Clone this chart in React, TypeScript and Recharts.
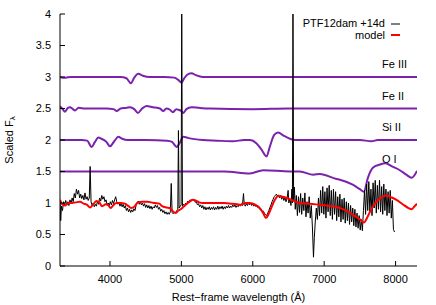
import React from 'react';
import { LineChart, Line, XAxis, YAxis, ReferenceDot, Legend } from 'recharts';

const FONT = '"Liberation Sans", Arial, Helvetica, sans-serif';

const xTicks = [4000, 5000, 6000, 7000, 8000];
const yTicks = [0, 0.5, 1, 1.5, 2, 2.5, 3, 3.5, 4];

// PTF12dam +14d observed spectrum [wavelength, scaled flux]
const observed: [number, number][] = [
  [3300, 1.05], [3310, 0.72], [3320, 0.95], [3335, 0.88], [3350, 1.02], [3365, 0.96], [3380, 1.04], [3395, 0.97],
  [3410, 1.02], [3425, 0.96], [3440, 1.05], [3455, 0.99], [3470, 1.08], [3485, 1.02], [3500, 1.15], [3515, 1.08],
  [3530, 1.22], [3545, 1.14], [3560, 1.2], [3575, 1.08], [3590, 1.14], [3605, 1.07], [3620, 1.12], [3635, 1.05],
  [3650, 1.16], [3665, 1.06], [3680, 1.1], [3695, 1.04], [3710, 1.08], [3722, 1.58], [3735, 1.02], [3750, 0.96],
  [3765, 1.0], [3780, 0.94], [3795, 0.98], [3810, 0.95], [3825, 1.03], [3840, 0.98], [3855, 1.08], [3870, 1.03],
  [3885, 1.12], [3900, 1.06], [3915, 1.1], [3930, 1.02], [3945, 1.05], [3960, 0.97], [3975, 1.0], [3990, 0.96],
  [4005, 1.02], [4020, 0.97], [4035, 1.04], [4050, 0.99], [4065, 1.05], [4080, 1.1], [4095, 1.02], [4110, 0.98],
  [4125, 1.01], [4140, 0.95], [4155, 0.99], [4170, 0.94], [4185, 0.98], [4200, 0.92], [4215, 0.96], [4230, 0.88],
  [4245, 0.92], [4260, 0.86], [4275, 0.9], [4290, 0.85], [4305, 0.89], [4320, 0.86], [4335, 0.91], [4350, 0.88],
  [4365, 0.96], [4380, 0.99], [4395, 1.03], [4410, 0.98], [4425, 1.02], [4440, 0.97], [4455, 1.0], [4470, 0.95],
  [4485, 0.99], [4500, 0.93], [4515, 0.97], [4530, 0.92], [4545, 0.96], [4560, 0.91], [4575, 0.95], [4590, 0.9],
  [4605, 0.94], [4620, 0.92], [4635, 0.97], [4650, 0.93], [4665, 0.96], [4680, 0.9], [4695, 0.93], [4710, 0.87],
  [4725, 0.9], [4740, 0.85], [4755, 0.88], [4770, 0.83], [4785, 0.86], [4800, 0.82], [4815, 0.85], [4830, 0.82],
  [4845, 0.86], [4858, 1.31], [4870, 0.85], [4885, 0.83], [4900, 0.86], [4915, 0.84], [4935, 0.88], [4950, 0.9],
  [4959, 2.15], [4968, 0.92], [4985, 0.95], [4996, 0.97], [5005, 4.0], [5015, 0.95], [5030, 0.98], [5045, 0.96],
  [5060, 1.0], [5075, 0.98], [5090, 1.03], [5105, 1.01], [5120, 1.05], [5135, 1.03], [5150, 1.06], [5165, 1.04],
  [5180, 1.05], [5195, 1.01], [5210, 1.02], [5225, 0.97], [5240, 0.99], [5255, 0.94], [5270, 0.97], [5285, 0.92],
  [5300, 0.96], [5315, 0.9], [5330, 0.94], [5345, 0.89], [5360, 0.93], [5375, 0.9], [5390, 0.94], [5405, 0.89],
  [5420, 0.93], [5435, 0.9], [5450, 0.94], [5465, 0.89], [5480, 0.93], [5495, 0.9], [5510, 0.95], [5525, 0.9],
  [5540, 0.94], [5555, 0.91], [5570, 0.95], [5585, 0.9], [5600, 0.94], [5615, 0.91], [5630, 0.95], [5645, 0.92],
  [5660, 0.96], [5675, 0.92], [5690, 0.95], [5705, 0.93], [5720, 0.97], [5735, 0.94], [5750, 0.97], [5765, 0.93],
  [5780, 0.96], [5795, 0.94], [5810, 0.98], [5825, 0.95], [5840, 0.99], [5855, 0.96], [5870, 1.15], [5880, 0.98],
  [5895, 0.95], [5910, 0.99], [5925, 0.96], [5940, 1.0], [5955, 0.97], [5970, 1.0], [5985, 0.96], [6000, 0.99],
  [6015, 0.95], [6030, 0.98], [6045, 0.94], [6060, 0.96], [6075, 0.92], [6090, 0.93], [6105, 0.89], [6120, 0.9],
  [6135, 0.86], [6150, 0.87], [6165, 0.83], [6180, 0.82], [6195, 0.8], [6210, 0.84], [6225, 0.88], [6240, 0.93],
  [6255, 0.97], [6270, 1.02], [6285, 1.06], [6300, 1.1], [6315, 1.12], [6330, 1.14], [6345, 1.11], [6360, 1.13],
  [6375, 1.08], [6390, 1.12], [6405, 1.06], [6420, 1.1], [6435, 1.04], [6450, 1.09], [6465, 1.02], [6480, 1.07],
  [6495, 1.2], [6505, 1.0], [6520, 1.06], [6535, 0.96], [6548, 1.22], [6555, 1.0], [6563, 4.0], [6572, 1.05],
  [6583, 1.25], [6595, 0.9], [6610, 1.12], [6625, 0.8], [6640, 1.1], [6655, 0.85], [6670, 1.15], [6685, 0.82],
  [6700, 1.08], [6715, 0.88], [6730, 1.16], [6745, 0.78], [6760, 1.02], [6775, 0.84], [6790, 1.1], [6805, 0.76],
  [6820, 0.96], [6835, 0.62], [6850, 0.14], [6862, 0.45], [6875, 0.7], [6890, 0.92], [6905, 0.74], [6920, 1.08],
  [6935, 0.8], [6950, 1.2], [6965, 0.84], [6980, 1.26], [6995, 0.82], [7010, 1.18], [7025, 0.76], [7040, 1.24],
  [7055, 0.86], [7070, 1.28], [7085, 0.8], [7100, 1.2], [7115, 0.74], [7130, 1.22], [7145, 0.82], [7160, 1.18],
  [7175, 0.72], [7190, 1.1], [7205, 0.78], [7220, 1.14], [7235, 0.7], [7250, 1.06], [7265, 0.74], [7280, 1.08],
  [7295, 0.68], [7310, 1.02], [7325, 0.72], [7340, 1.0], [7355, 0.66], [7370, 0.96], [7385, 0.7], [7400, 0.92],
  [7415, 0.64], [7430, 0.9], [7445, 0.62], [7460, 0.84], [7475, 0.6], [7490, 0.8], [7505, 0.57], [7520, 0.74],
  [7535, 0.56], [7550, 0.88], [7565, 1.2], [7580, 0.82], [7595, 1.3], [7610, 0.88], [7625, 1.34], [7640, 0.86],
  [7655, 1.22], [7670, 0.8], [7685, 1.32], [7700, 0.92], [7715, 1.36], [7730, 0.84], [7745, 1.28], [7760, 0.9],
  [7775, 1.36], [7790, 0.86], [7805, 1.26], [7820, 0.82], [7835, 1.3], [7850, 0.88], [7865, 1.22], [7880, 0.8],
  [7895, 1.18], [7910, 0.84], [7925, 1.2], [7940, 0.76], [7955, 1.04], [7970, 0.58], [7985, 0.54],
];

// Model spectrum
const model: [number, number][] = [
  [3300, 1.05], [3340, 0.97], [3370, 0.96], [3420, 1.0], [3470, 1.0], [3520, 1.01], [3580, 1.02], [3630, 0.99],
  [3680, 0.97], [3720, 0.93], [3760, 0.97], [3810, 1.03], [3850, 1.01], [3890, 0.95], [3940, 0.98], [3980, 0.96],
  [4010, 0.92], [4050, 0.97], [4090, 1.0], [4150, 1.0], [4210, 0.99], [4260, 0.95], [4300, 0.92], [4340, 0.94],
  [4390, 1.01], [4450, 1.02], [4520, 1.02], [4580, 1.01], [4630, 1.0], [4690, 0.99], [4730, 0.95], [4790, 0.93],
  [4840, 0.92], [4880, 0.87], [4920, 0.84], [4960, 0.88], [4990, 0.9], [5030, 0.94], [5100, 1.01], [5160, 1.05],
  [5200, 1.04], [5250, 1.01], [5300, 1.0], [5400, 1.0], [5500, 1.0], [5600, 1.0], [5700, 0.99], [5780, 0.98],
  [5830, 0.97], [5900, 1.0], [5960, 1.0], [6040, 0.97], [6090, 0.93], [6150, 0.83], [6185, 0.76], [6220, 0.82],
  [6265, 0.94], [6310, 1.05], [6356, 1.11], [6420, 1.1], [6480, 1.08], [6560, 1.04], [6660, 1.0], [6800, 0.99],
  [6940, 0.97], [7100, 0.95], [7220, 0.92], [7320, 0.87], [7407, 0.81], [7500, 0.74], [7556, 0.69], [7590, 0.74],
  [7620, 0.81], [7680, 0.94], [7733, 1.02], [7800, 1.09], [7873, 1.12], [7940, 1.09], [8013, 1.05], [8100, 0.98],
  [8180, 0.92], [8224, 0.9], [8260, 0.94], [8300, 0.99],
];

// Single-ion contributions (offset)
const feIII: [number, number][] = [
  [3300, 3.0], [3340, 2.99], [3380, 2.99], [3450, 3.0], [4150, 3.0], [4230, 2.98], [4294, 2.9], [4340, 2.99],
  [4396, 3.05], [4460, 3.02], [4560, 3.0], [4760, 3.0], [4900, 2.99], [4960, 2.95], [5003, 2.91], [5040, 2.98],
  [5100, 3.05], [5143, 3.06], [5200, 3.03], [5300, 3.0], [6000, 3.0], [7000, 3.0], [8300, 3.0],
];

const feII: [number, number][] = [
  [3300, 2.53], [3330, 2.5], [3370, 2.45], [3410, 2.51], [3440, 2.52], [3480, 2.49], [3510, 2.47], [3560, 2.51],
  [3650, 2.5], [3800, 2.5], [3950, 2.5], [4050, 2.49], [4094, 2.46], [4150, 2.5], [4230, 2.51], [4280, 2.52],
  [4340, 2.49], [4392, 2.43], [4450, 2.5], [4513, 2.54], [4600, 2.52], [4700, 2.5], [4745, 2.46], [4790, 2.5],
  [4840, 2.48], [4882, 2.44], [4930, 2.49], [4960, 2.48], [5000, 2.46], [5027, 2.43], [5070, 2.49], [5143, 2.52],
  [5250, 2.51], [5400, 2.5], [6000, 2.49], [6500, 2.5], [7000, 2.5], [7600, 2.5], [8300, 2.5],
];

const siII: [number, number][] = [
  [3300, 2.0], [3600, 2.0], [3680, 1.99], [3743, 1.89], [3790, 1.97], [3836, 2.04], [3880, 2.02], [3950, 1.97],
  [4000, 1.9], [4060, 1.98], [4117, 2.05], [4170, 2.02], [4250, 2.0], [4500, 2.0], [4800, 1.99], [4870, 1.97],
  [4934, 1.89], [4970, 1.94], [5027, 2.05], [5100, 2.03], [5300, 2.0], [5500, 1.99], [5722, 1.98], [5880, 2.0],
  [5960, 2.0], [6050, 1.95], [6120, 1.85], [6193, 1.74], [6240, 1.9], [6300, 2.08], [6356, 2.12], [6430, 2.07],
  [6520, 2.02], [6600, 2.0], [7000, 2.0], [7500, 2.0], [7664, 1.98], [7750, 2.0], [8300, 2.0],
];

const oI: [number, number][] = [
  [3300, 1.5], [5600, 1.5], [5960, 1.47], [6147, 1.52], [6520, 1.5], [6660, 1.5], [6847, 1.45], [6940, 1.46],
  [7173, 1.38], [7220, 1.37], [7400, 1.29], [7500, 1.22], [7556, 1.18], [7612, 1.4], [7682, 1.56], [7780, 1.61],
  [7860, 1.63], [7950, 1.58], [8060, 1.52], [8150, 1.45], [8224, 1.4], [8300, 1.51],
];

const legendItems = [
  { name: 'PTF12dam +14d', color: '#000', width: 1 },
  { name: 'model', color: '#ff0000', width: 2 },
];

const ionNames = ['Fe III', 'Fe II', 'Si II', 'O I'];
const ionLabelY = [3.2, 2.7, 2.2, 1.7];
const ionLabelX = 7810;

const PURPLE = '#7a22ad';

const toPts = (arr: [number, number][]) => arr.map(([x, y]) => ({ x, y }));

const YLabel = (props: any) => {
  const vb = props.viewBox || { x: 0, y: 14, width: 60, height: 252 };
  const cx = vb.x + 9;
  const cy = vb.y + vb.height / 2;
  return (
    <text
      x={cx}
      y={cy}
      transform={`rotate(-90 ${cx} ${cy})`}
      textAnchor="middle"
      dominantBaseline="central"
      fontSize={11}
      fontFamily={FONT}
      fill="#000"
    >
      Scaled F<tspan fontSize={8} dy={3}>λ</tspan>
    </text>
  );
};

const LegendBox = () => (
  <div style={{ fontFamily: FONT, fontSize: 11, color: '#000' }}>
    {legendItems.map((it) => (
      <div
        key={it.name}
        style={{ display: 'flex', justifyContent: 'flex-end', alignItems: 'center', height: 11.5, lineHeight: '11.5px' }}
      >
        <span>{it.name}</span>
        <svg width={9} height={4} style={{ marginLeft: 6 }}>
          <line x1={0} x2={9} y1={2} y2={2} stroke={it.color} strokeWidth={it.width} />
        </svg>
      </div>
    ))}
  </div>
);

const tickStyle = { fontSize: 11, fill: '#000', fontFamily: FONT };

export default function App() {
  return (
    <div style={{ position: 'absolute', left: 0, top: 0, width: 436, height: 305, background: '#fff' }}>
      <LineChart
        width={436}
        height={305}
        margin={{ top: 14, right: 19, bottom: 0, left: 0 }}
        style={{ fontFamily: FONT }}
      >
        <XAxis
          dataKey="x"
          type="number"
          domain={[3300, 8300]}
          ticks={xTicks}
          allowDataOverflow
          height={39}
          tickSize={-5}
          tickMargin={14}
          tick={tickStyle}
          axisLine={{ stroke: '#000' }}
          tickLine={{ stroke: '#000' }}
          label={{ value: 'Rest−frame wavelength (Å)', position: 'insideBottom', offset: 4, fontSize: 11, fill: '#000', fontFamily: FONT }}
        />
        <XAxis
          xAxisId="top"
          orientation="top"
          dataKey="x"
          type="number"
          domain={[3300, 8300]}
          ticks={xTicks}
          allowDataOverflow
          height={0}
          tickSize={-5}
          tick={false}
          axisLine={{ stroke: '#000' }}
          tickLine={{ stroke: '#000' }}
        />
        <YAxis
          type="number"
          domain={[0, 4]}
          ticks={yTicks}
          allowDataOverflow
          width={60}
          tickSize={-5}
          tickMargin={14}
          tick={tickStyle}
          axisLine={{ stroke: '#000' }}
          tickLine={{ stroke: '#000' }}
          label={{ content: YLabel }}
        />
        <YAxis
          yAxisId="right"
          orientation="right"
          type="number"
          domain={[0, 4]}
          ticks={yTicks}
          allowDataOverflow
          width={0}
          tickSize={-5}
          tick={false}
          axisLine={{ stroke: '#000' }}
          tickLine={{ stroke: '#000' }}
        />
        <Line data={toPts(feIII)} dataKey="y" type="monotone" stroke={PURPLE} strokeWidth={2} dot={false} isAnimationActive={false} />
        <Line data={toPts(feII)} dataKey="y" type="monotone" stroke={PURPLE} strokeWidth={2} dot={false} isAnimationActive={false} />
        <Line data={toPts(siII)} dataKey="y" type="monotone" stroke={PURPLE} strokeWidth={2} dot={false} isAnimationActive={false} />
        <Line data={toPts(oI)} dataKey="y" type="monotone" stroke={PURPLE} strokeWidth={2} dot={false} isAnimationActive={false} />
        <Line data={toPts(observed)} dataKey="y" type="linear" stroke="#000" strokeWidth={1} dot={false} isAnimationActive={false} />
        <Line data={toPts(model)} dataKey="y" type="monotone" stroke="#ff0000" strokeWidth={2} dot={false} isAnimationActive={false} />
        {ionNames.map((name, i) => (
          <ReferenceDot
            key={name}
            x={ionLabelX}
            y={ionLabelY[i]}
            r={0}
            fill="none"
            stroke="none"
            label={{ value: name, position: 'right', offset: 0, fontSize: 11, fill: '#000', fontFamily: FONT }}
          />
        ))}
        <Legend
          layout="vertical"
          align="center"
          verticalAlign="middle"
          wrapperStyle={{ left: 270, top: 18, width: 130, height: 24 }}
          content={LegendBox}
        />
      </LineChart>
    </div>
  );
}
